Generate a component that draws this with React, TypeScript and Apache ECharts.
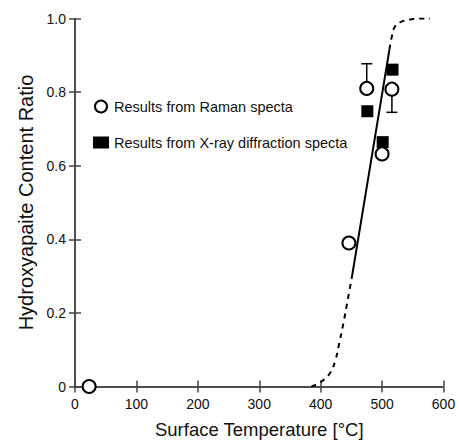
import React, { useEffect, useRef } from "react";
import * as echarts from "echarts";

// Raman results (open circles)
const ramanT = [23, 446, 475, 500, 516];
const ramanRatio = [0, 0.39, 0.81, 0.632, 0.808];
// error bars for Raman results [T, low, high]
const errT = [475, 516];
const errLow = [0.81, 0.745];
const errHigh = [0.877, 0.81];
// X-ray diffraction results (filled squares)
const xrdT = [476, 501, 517];
const xrdRatio = [0.748, 0.664, 0.861];
// linear fit (solid)
const fitT = [450.5, 512];
const fitRatio = [0.294, 0.916];
// sigmoid extension (dashed)
const lowT = [385, 400, 415, 424, 429, 437, 444, 450.5];
const lowRatio = [0, 0.012, 0.036, 0.072, 0.108, 0.172, 0.235, 0.294];
const highT = [512, 516, 521, 530, 545, 560, 578];
const highRatio = [0.916, 0.952, 0.978, 0.99, 0.997, 1.0, 1.0];

const xMin = 0, xMax = 600, xStep = 100;
const yMin = 0, yMax = 1, yStep = 0.2;

const FONT = "'Liberation Sans', Arial, sans-serif";
const AXIS_COLOR = "#444";
const TEXT_COLOR = "#111";

const zip = (a: number[], b: number[]) => a.map((v, i) => [v, b[i]]);

export default function App() {
  const ref = useRef<HTMLDivElement>(null);
  useEffect(() => {
    if (!ref.current) return;
    const chart = echarts.init(ref.current, undefined, { renderer: "svg" });
    const axisLine = { show: true, lineStyle: { color: AXIS_COLOR, width: 1.5 } };
    const axisTick = { show: true, inside: true, length: 6, lineStyle: { color: AXIS_COLOR, width: 1.5 } };
    const errData = errT.map((t, i) => [t, errLow[i], errHigh[i]]);
    chart.setOption({
      animation: false,
      backgroundColor: "#fff",
      textStyle: { fontFamily: FONT },
      grid: { left: 75, right: 15.5, top: 18.5, bottom: 54.5, outerBoundsMode: "none", containLabel: false },
      legend: {
        orient: "vertical",
        left: 88,
        top: 94,
        itemGap: 21,
        itemWidth: 16,
        itemHeight: 12,
        textStyle: { fontSize: 14.5, color: TEXT_COLOR, fontFamily: FONT },
        data: ["Results from Raman specta", "Results from X-ray diffraction specta"],
      },
      xAxis: [
        {
          type: "value", min: xMin, max: xMax, interval: xStep, position: "bottom",
          axisLine, axisTick, splitLine: { show: false },
          axisLabel: { fontSize: 14, color: TEXT_COLOR, margin: 10, fontFamily: FONT },
          name: "Surface Temperature [°C]", nameLocation: "middle", nameGap: 33,
          nameTextStyle: { fontSize: 18.5, color: TEXT_COLOR, fontFamily: FONT },
        },
        {
          type: "value", min: xMin, max: xMax, interval: xStep, position: "top",
          axisLine, axisTick, splitLine: { show: false }, axisLabel: { show: false },
        },
      ],
      yAxis: [
        {
          type: "value", min: yMin, max: yMax, interval: yStep, position: "left",
          axisLine, axisTick, splitLine: { show: false },
          axisLabel: {
            fontSize: 14, color: TEXT_COLOR, margin: 9, fontFamily: FONT,
            formatter: (v: number) => (v === 0 ? "0" : v.toFixed(1)),
          },
          name: "Hydroxyapaite Content Ratio", nameLocation: "middle", nameGap: 38,
          nameTextStyle: { fontSize: 20, color: TEXT_COLOR, fontFamily: FONT },
        },
        {
          type: "value", min: yMin, max: yMax, interval: yStep, position: "right",
          axisLine, axisTick, splitLine: { show: false }, axisLabel: { show: false },
        },
      ],
      series: [
        {
          type: "line", data: zip(lowT, lowRatio), smooth: true, symbol: "none",
          lineStyle: { color: "#000", width: 2, type: [5, 5] }, silent: true, z: 2,
        },
        {
          type: "line", data: zip(highT, highRatio), smooth: true, symbol: "none",
          lineStyle: { color: "#000", width: 2, type: [5, 5] }, silent: true, z: 2,
        },
        {
          type: "line", data: zip(fitT, fitRatio), symbol: "none",
          lineStyle: { color: "#000", width: 2 }, silent: true, z: 2,
        },
        {
          type: "custom", z: 3, silent: true,
          data: errData,
          renderItem: (params: any, api: any) => {
            const x = api.value(0);
            const lo = api.coord([x, api.value(1)]);
            const hi = api.coord([x, api.value(2)]);
            const hw = 5.5;
            const style = { stroke: "#000", lineWidth: 1.5 };
            return {
              type: "group",
              children: [
                { type: "line", shape: { x1: lo[0], y1: lo[1], x2: hi[0], y2: hi[1] }, style },
                { type: "line", shape: { x1: lo[0] - hw, y1: lo[1], x2: lo[0] + hw, y2: lo[1] }, style },
                { type: "line", shape: { x1: hi[0] - hw, y1: hi[1], x2: hi[0] + hw, y2: hi[1] }, style },
              ],
            };
          },
        },
        {
          name: "Results from X-ray diffraction specta",
          type: "scatter", data: zip(xrdT, xrdRatio), symbol: "rect", symbolSize: 12,
          itemStyle: { color: "#000", opacity: 1 }, z: 4,
        },
        {
          name: "Results from Raman specta",
          type: "scatter", data: zip(ramanT, ramanRatio), symbol: "circle", symbolSize: 13,
          itemStyle: { color: "#fff", borderColor: "#000", borderWidth: 2, opacity: 1 }, z: 5,
        },
      ],
    });
    return () => chart.dispose();
  }, []);
  return (
    <div
      ref={ref}
      style={{ position: "fixed", left: 0, top: 0, width: 459, height: 441, background: "#fff" }}
    />
  );
}
